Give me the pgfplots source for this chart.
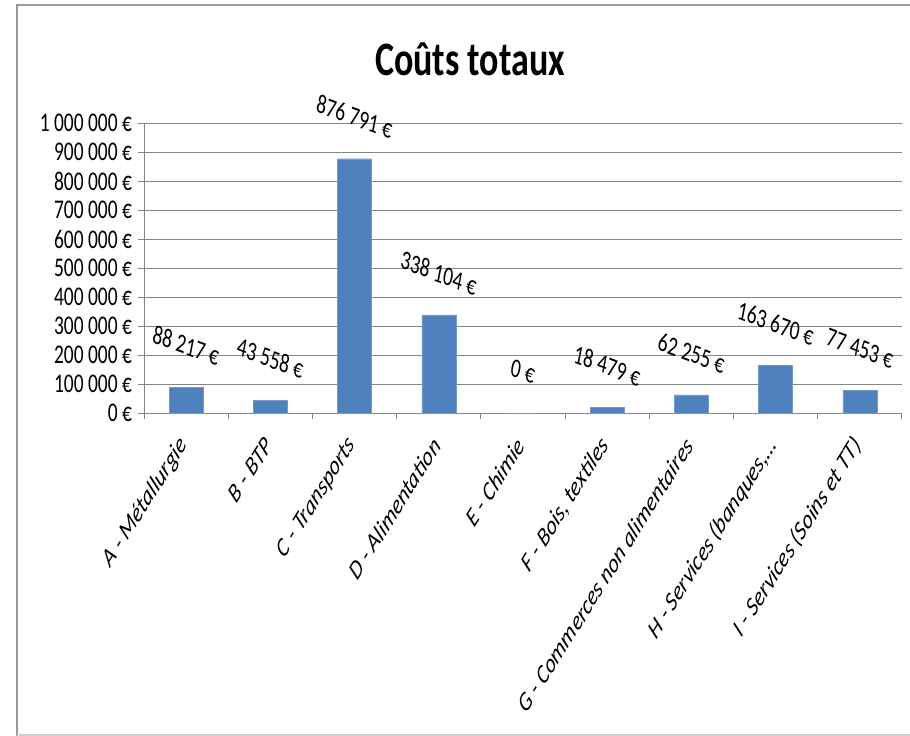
\documentclass[border=0pt]{standalone}
\usepackage{pgfplots}
\pgfplotsset{compat=1.18}
\usepackage{fontspec}
\setmainfont{Carlito}
\definecolor{barblue}{HTML}{4F81BD}
\definecolor{gridgray}{HTML}{868686}
\begin{document}
\begin{tikzpicture}[x=1pt,y=1pt]
\useasboundingbox (0,0) rectangle (910,-736);
\fill[white] (0,0) rectangle (910,-736);
\draw[gray!80, line width=2pt] (17,-736) -- (17,-5) -- (910,-5);
\draw[gray!35, line width=1.5pt] (17,-735) -- (910,-735);
\node[anchor=base, font=\fontsize{48}{52}\selectfont\bfseries, xscale=0.75] at (470,-75) {Coûts totaux};
\begin{axis}[
  at={(144pt,-413pt)}, anchor=south west,
  scale only axis, width=758pt, height=290pt,
  xmin=-0.5, xmax=8.5, ymin=0, ymax=1000000,
  axis x line*=bottom, axis y line*=left,
  axis line style={draw=gridgray, line width=1pt},
  ymajorgrids, grid style={draw=gridgray, line width=1pt},
  tick style={draw=gridgray, line width=1pt},
  tick align=outside, major tick length=6pt,
  ytick={0,100000,200000,300000,400000,500000,600000,700000,800000,900000,1000000},
  yticklabels={0 €,100 000 €,200 000 €,300 000 €,400 000 €,500 000 €,600 000 €,700 000 €,800 000 €,900 000 €,1 000 000 €},
  scaled y ticks=false,
  xtick={-0.5,0.5,1.5,2.5,3.5,4.5,5.5,6.5,7.5,8.5},
  xticklabels={A - Métallurgie,B - BTP,C - Transports,D - Alimentation,E - Chimie,{F - Bois,  textiles},G - Commerces non alimentaires,{H - Services (banques,\ldots},I - Services (Soins et TT),{}},
  yticklabel style={font=\fontsize{27}{30}\selectfont, anchor=east, inner sep=0pt, xshift=-6pt, xscale=0.72},
  xticklabel style={font=\fontsize{27}{30}\selectfont\itshape, anchor=east, inner sep=0pt, xshift=40pt, yshift=-22pt, xscale=0.72, rotate=49},
  nodes near coords={\pgfplotspointmeta},
  point meta=explicit symbolic,
  every node near coord/.append style={font=\fontsize{27}{30}\selectfont, text=black, anchor=center, inner sep=0pt, yshift=42pt, xscale=0.72, rotate=-15},
  clip=false,
]
\addplot[ybar, bar width=34pt, fill=barblue, draw=barblue!80!white] coordinates {
(0,88217) [88 217 €]
(1,43558) [43 558 €]
(2,876791) [876 791 €]
(3,338104) [338 104 €]
(4,0) [0 €]
(5,18479) [18 479 €]
(6,62255) [62 255 €]
(7,163670) [163 670 €]
(8,77453) [77 453 €]
};
\end{axis}
\end{tikzpicture}
\end{document}
